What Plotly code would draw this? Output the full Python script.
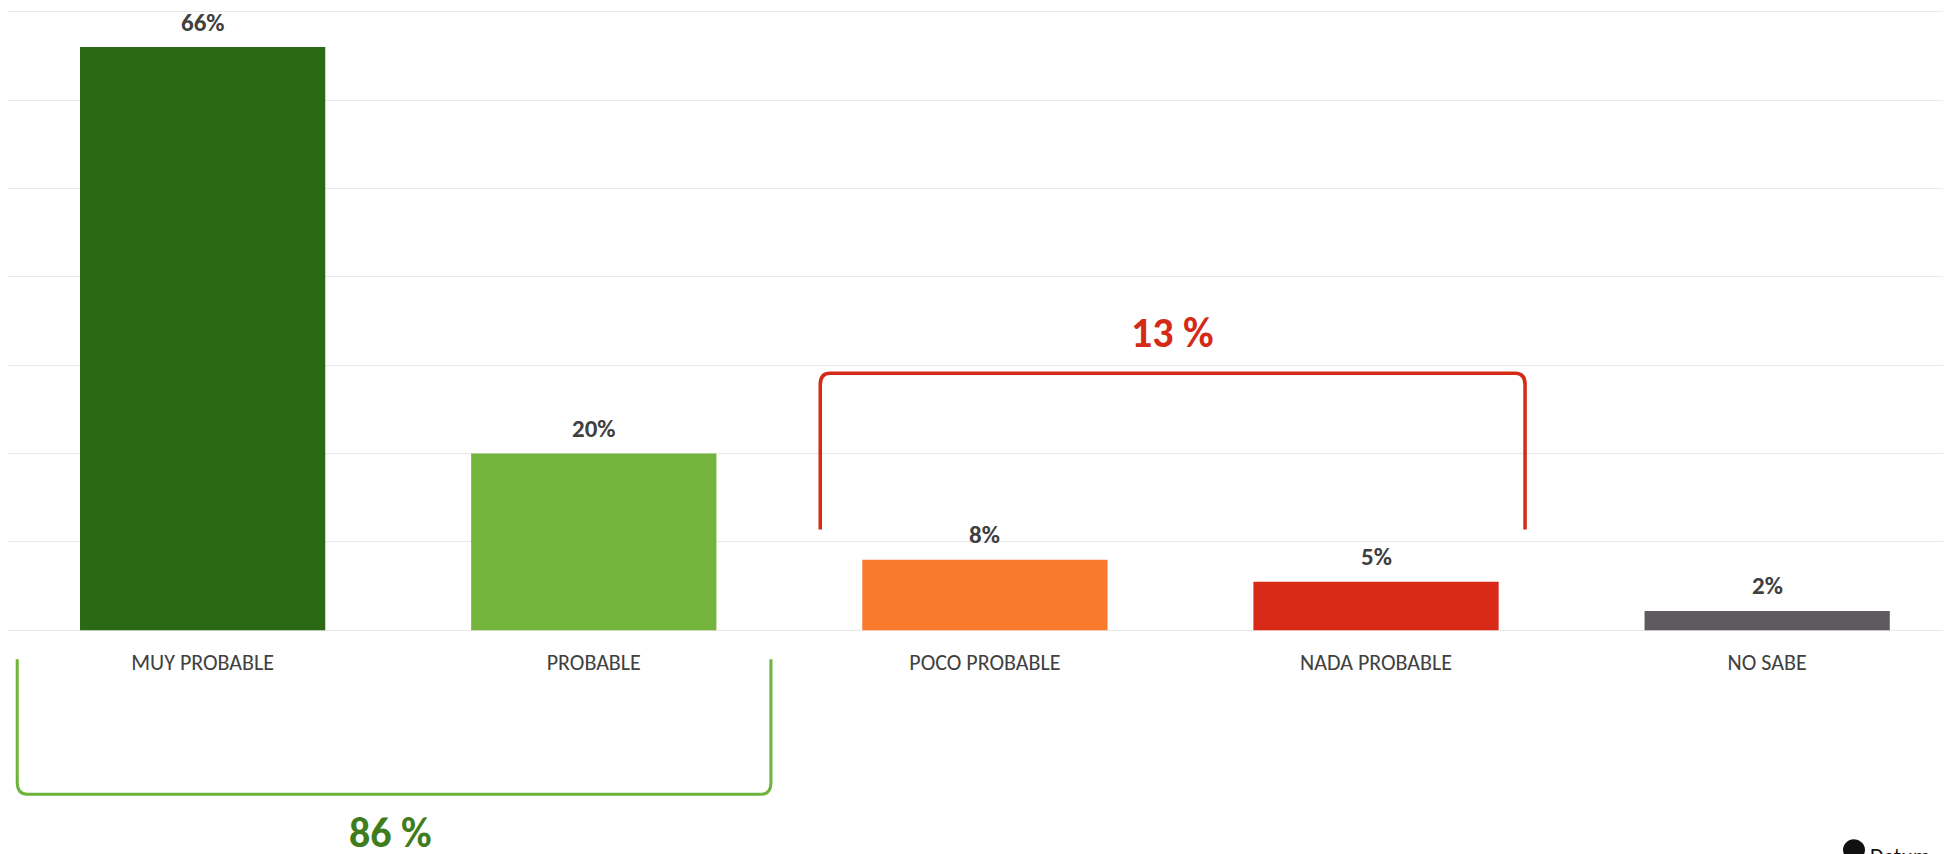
# survey bar chart with group brackets

import plotly.graph_objects as go

categories = ["MUY PROBABLE", "PROBABLE", "POCO PROBABLE", "NADA PROBABLE", "NO SABE"]
values = [66, 20, 8, 5.5, 2.2]
value_labels = ["66%", "20%", "8%", "5%", "2%"]
bar_colors = ["#2b6914", "#74b43c", "#f97a2c", "#d92a18", "#5e5a5f"]

group_pos_label = "86 %"
group_neg_label = "13 %"

FONT = "Carlito, Lato, sans-serif"
# the page body has an 8px margin, so the figure is 8px smaller than the window
W, H = 1943, 846
M_L, M_R, M_T, M_B = 0, 0, 1, 221
X_RANGE = [-0.4976, 4.470]
Y_RANGE = [-0.3, 70.3]  # padded so the 0 and 70 gridlines are drawn

plot_w = W - M_L - M_R
plot_h = H - M_T - M_B


def xpaper(i):
    return (i - X_RANGE[0]) / (X_RANGE[1] - X_RANGE[0])


def ypaper_below(px):
    # px = pixels below the x axis baseline
    y0 = (0 - Y_RANGE[0]) / (Y_RANGE[1] - Y_RANGE[0])
    return y0 - px / plot_h


fig = go.Figure()
fig.add_trace(go.Bar(
    x=categories, y=values, marker_color=bar_colors, marker_line_width=0,
    hoverinfo="skip",
))

# value labels above bars
for c, v, t in zip(categories, values, value_labels):
    fig.add_annotation(x=c, y=v, text=t, showarrow=False, xanchor="center", yanchor="middle",
                       yshift=25, font=dict(family=FONT, size=25, color="#404040", weight="bold"))

# green bracket below the first two categories (paper coords)
gx0, gx1 = xpaper(-0.474), xpaper(1.453)
gy_top, gy_bot = ypaper_below(29), ypaper_below(164)
rx, ry = 10 / plot_w, 12 / plot_h
fig.add_shape(type="path", xref="paper", yref="paper",
              path=(f"M {gx0} {gy_top} L {gx0} {gy_bot + ry} Q {gx0} {gy_bot} {gx0 + rx} {gy_bot} "
                    f"L {gx1 - rx} {gy_bot} Q {gx1} {gy_bot} {gx1} {gy_bot + ry} L {gx1} {gy_top}"),
              line=dict(color="#6cb43a", width=3))
fig.add_annotation(xref="paper", yref="paper", x=(gx0 + gx1) / 2 - 4 / plot_w, y=ypaper_below(202),
                   text=f"<b>{group_pos_label}</b>", showarrow=False,
                   xanchor="center", yanchor="middle",
                   font=dict(family=FONT, size=42, color="#3f7d1c"))

# red bracket above poco / nada probable (data coords)
rx0, rx1 = 1.579, 3.381
ry_top, ry_bot = 29.1, 11.4
drx, dry = 0.025, 1.3
fig.add_shape(type="path", xref="x", yref="y",
              path=(f"M {rx0} {ry_bot} L {rx0} {ry_top - dry} Q {rx0} {ry_top} {rx0 + drx} {ry_top} "
                    f"L {rx1 - drx} {ry_top} Q {rx1} {ry_top} {rx1} {ry_top - dry} L {rx1} {ry_bot}"),
              line=dict(color="#d42a16", width=3.5))
fig.add_annotation(x=(rx0 + rx1) / 2, y=ry_top, yshift=41, text=f"<b>{group_neg_label}</b>",
                   showarrow=False, xanchor="center", yanchor="middle",
                   font=dict(family=FONT, size=42, color="#d42a16"))

# logo, cut off at the bottom edge
fig.add_shape(type="circle", xref="paper", yref="paper",
              x0=1835 / plot_w, x1=1857 / plot_w,
              y0=ypaper_below(230), y1=ypaper_below(209),
              fillcolor="#111111", line_width=0)
fig.add_annotation(xref="paper", yref="paper", x=1860 / plot_w, y=ypaper_below(211),
                   text="Datum", showarrow=False, xanchor="left", yanchor="top",
                   font=dict(family=FONT, size=22, color="#111111"))

fig.update_layout(
    width=W, height=H, margin=dict(l=M_L, r=M_R, t=M_T, b=M_B),
    plot_bgcolor="white", paper_bgcolor="white", showlegend=False,
    bargap=0.373,
    font=dict(family=FONT, color="#404040"),
)
fig.update_xaxes(range=X_RANGE, showgrid=False, showline=False, ticks="",
                 ticklabelstandoff=14, tickfont=dict(family=FONT, size=22, color="#404040"))
fig.update_yaxes(range=Y_RANGE, dtick=10, showgrid=True, gridcolor="#e8e8e8", gridwidth=1,
                 zeroline=False, showticklabels=False, ticks="")

fig.write_html("out.html")
